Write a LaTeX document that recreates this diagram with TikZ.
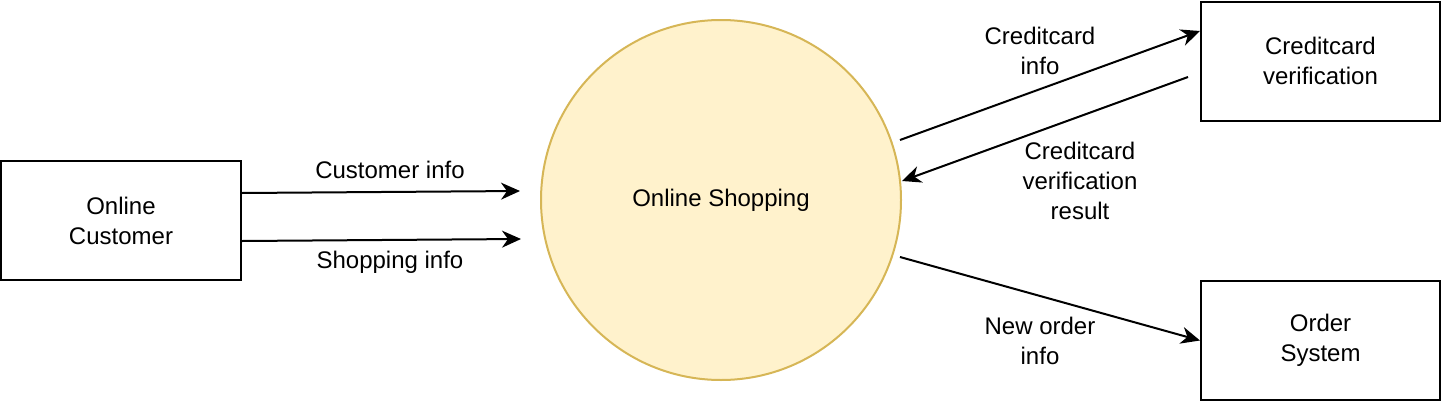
\documentclass[tikz,border=0pt]{standalone}
\usepackage{fontspec}
\setmainfont{Liberation Sans}
\usetikzlibrary{arrows.meta}
\definecolor{shopfill}{HTML}{FFF2CC}
\definecolor{shopline}{HTML}{D6B656}
\begin{document}
\begin{tikzpicture}[x=0.5pt,y=-0.5pt,
  every node/.style={font=\fontsize{12}{15}\selectfont, align=center, inner sep=0pt},
  entity/.style={draw=black, line width=1pt, minimum width=120pt, minimum height=59.5pt},
  proc/.style={circle, draw=shopline, fill=shopfill, line width=1pt, minimum size=180pt},
  arr/.style={draw=black, line width=1pt, -{Stealth[length=9.5pt,width=8.5pt,inset=3pt]}},
  lbl/.style={text=black}]
\useasboundingbox (0,0) rectangle (1442,402);
\node[entity] (cust) at (121,220.5) {Online\\Customer};
\node[proc] (shop) at (721,200) {Online Shopping};
\node[entity, minimum width=119.5pt] (cc) at (1320.5,61) {Creditcard\\verification};
\node[entity, minimum width=119.5pt] (order) at (1320.5,340.5) {Order\\System};

\draw[arr] ([yshift=13.75pt]cust.east) -- ([xshift=-10pt,yshift=4.5pt]shop.west);
\draw[arr] ([yshift=-10.25pt]cust.east) -- ([xshift=-9.5pt,yshift=-19.5pt]shop.west);
\draw[arr] ([xshift=89.5pt,yshift=30pt]shop.center) -- ([yshift=15pt]cc.west);
\draw[arr] ([xshift=-6pt,yshift=-8pt]cc.west) -- ([xshift=90.5pt,yshift=9.5pt]shop.center);
\draw[arr] ([xshift=89.5pt,yshift=-28.5pt]shop.center) -- (order.west);

\node[lbl] (l1) at (390,170) {Customer info};
\node[lbl] (l2) at (390,262) {Shopping info};
\node[lbl] (l3) at (1040,51) {Creditcard\\info};
\node[lbl] (l4) at (1080,181) {Creditcard\\verification\\result};
\node[lbl] (l5) at (1040,340.5) {New order\\info};
\end{tikzpicture}
\end{document}
